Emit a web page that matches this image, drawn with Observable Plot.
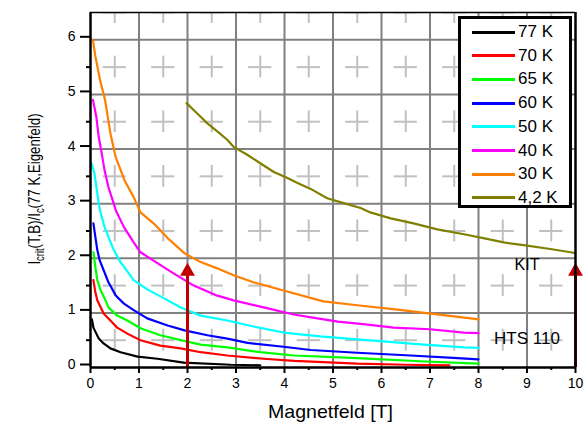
<!DOCTYPE html>
<html>
<head>
<meta charset="utf-8">
<script src="https://cdn.jsdelivr.net/npm/d3@7"></script>
<script src="https://cdn.jsdelivr.net/npm/@observablehq/plot@0.6"></script>
<style>
  html, body { margin: 0; padding: 0; background: #fff; }
  #wrap { position: relative; width: 588px; height: 422px; font-family: "Liberation Sans", Arial, sans-serif; }
  #legend { position: absolute; left: 458px; top: 16px; width: 114px; height: 192px; box-sizing: border-box;
            border: 3px solid #000; background: #fff; }
  .row { position: absolute; left: 0; height: 20px; display: flex; align-items: center; }
  .sw { width: 43px; height: 0; border-top: 3px solid; margin-left: 11px; margin-right: 3px; }
  .lab { font-size: 17px; color: #000; white-space: nowrap; }
</style>
</head>
<body>
<div id="wrap"></div>
<script>
// ---- data ----
const temps  = ["77 K", "70 K", "65 K", "60 K", "50 K", "40 K", "30 K", "4,2 K"];
const colors = ["#000000", "#ff0000", "#00ff00", "#0000ff", "#00ffff", "#ff00ff", "#ff8000", "#808000"];

const b77 = [0.03, 0.06, 0.12, 0.17, 0.27, 0.41, 0.62, 0.97, 1.38, 1.92, 2.89, 3.5];
const i77 = [0.88, 0.73, 0.62, 0.53, 0.44, 0.35, 0.28, 0.20, 0.16, 0.09, 0.05, 0.04];

const b70 = [0.06, 0.10, 0.14, 0.19, 0.27, 0.41, 0.55, 0.76, 1.03, 1.44, 1.86, 2.27, 2.82, 3.57, 4.2, 4.8, 5.5, 6.5, 7.4];
const i70 = [1.60, 1.38, 1.23, 1.14, 0.99, 0.86, 0.73, 0.62, 0.50, 0.40, 0.35, 0.28, 0.22, 0.16, 0.12, 0.10, 0.07, 0.05, 0.04];

const b65 = [0.06, 0.10, 0.14, 0.21, 0.29, 0.37, 0.55, 0.76, 1.03, 1.44, 1.86, 2.27, 2.82, 3.5, 4.19, 5.5, 6.9, 8.0];
const i65 = [2.11, 1.84, 1.60, 1.41, 1.27, 1.10, 0.95, 0.86, 0.72, 0.59, 0.50, 0.42, 0.37, 0.28, 0.22, 0.17, 0.11, 0.07];

const b60 = [0.06, 0.14, 0.19, 0.29, 0.37, 0.52, 0.69, 0.89, 1.17, 1.59, 1.94, 2.41, 2.82, 3.24, 3.98, 4.54, 5.5, 6.6, 7.57, 8.0];
const i60 = [2.64, 2.15, 1.96, 1.74, 1.56, 1.32, 1.17, 1.05, 0.90, 0.77, 0.68, 0.59, 0.53, 0.45, 0.38, 0.32, 0.27, 0.22, 0.17, 0.15];

const b50 = [0.02, 0.08, 0.14, 0.17, 0.21, 0.29, 0.37, 0.48, 0.62, 0.89, 1.17, 1.51, 1.86, 2.27, 2.82, 3.36, 3.98, 4.74, 5.3, 6.04, 6.87, 7.7, 8.0];
const i50 = [3.74, 3.56, 3.19, 3.00, 2.83, 2.57, 2.39, 2.15, 1.93, 1.60, 1.43, 1.27, 1.10, 0.95, 0.86, 0.75, 0.64, 0.57, 0.53, 0.48, 0.42, 0.37, 0.36];

const b40 = [0.05, 0.12, 0.17, 0.23, 0.29, 0.37, 0.48, 0.52, 0.69, 0.89, 1.03, 1.38, 1.72, 2.13, 2.6, 2.95, 3.57, 4.19, 4.68, 5.1, 5.67, 6.25, 7.0, 7.7, 8.0];
const i40 = [4.90, 4.59, 4.22, 3.93, 3.61, 3.30, 3.00, 2.88, 2.57, 2.29, 2.11, 1.91, 1.72, 1.50, 1.32, 1.23, 1.10, 0.97, 0.90, 0.84, 0.79, 0.73, 0.70, 0.64, 0.63];

const b30 = [0.05, 0.10, 0.20, 0.30, 0.41, 0.52, 0.70, 0.89, 1.03, 1.30, 1.59, 1.94, 2.27, 2.6, 2.95, 3.36, 3.98, 4.8, 5.5, 6.33, 7.36, 7.84, 8.0];
const i30 = [6.00, 5.70, 5.25, 4.90, 4.29, 3.85, 3.43, 3.12, 2.84, 2.64, 2.37, 2.09, 1.93, 1.82, 1.69, 1.56, 1.41, 1.21, 1.14, 1.06, 0.95, 0.90, 0.88];

const b42 = [1.98, 2.12, 2.27, 2.41, 2.62, 2.82, 2.95, 3.24, 3.5, 3.78, 4.06, 4.27, 4.54, 4.88, 5.22, 5.57, 5.77, 6.19, 6.66, 7.15, 7.7, 8.1, 8.52, 8.93, 9.48, 9.9, 10.0];
const i42 = [4.84, 4.72, 4.59, 4.47, 4.32, 4.17, 4.04, 3.89, 3.74, 3.58, 3.47, 3.38, 3.27, 3.10, 3.01, 2.92, 2.84, 2.73, 2.64, 2.53, 2.44, 2.37, 2.29, 2.24, 2.17, 2.11, 2.09];

const xTicks = [0, 1, 2, 3, 4, 5, 6, 7, 8, 9, 10];
const yTicks = [0, 1, 2, 3, 4, 5, 6];
const xMinor = [0.5, 1.5, 2.5, 3.5, 4.5, 5.5, 6.5, 7.5, 8.5, 9.5];
const yMinor = [0.5, 1.5, 2.5, 3.5, 4.5, 5.5, 6.5];
const arrowX = [2, 10];
const arrowTop = 1.76;
const notes = ["KIT", "HTS 110"];

const xLabel = "Magnetfeld [T]";

// ---- build table ----
const series = [[b77, i77], [b70, i70], [b65, i65], [b60, i60], [b50, i50], [b40, i40], [b30, i30], [b42, i42]];
const rows = series.flatMap(([bs, is], k) => bs.map((b, j) => ({t: temps[k], B: b, I: is[j]})));
const crosses = d3.cross(xMinor, yMinor);

const font = "Liberation Sans, Arial, sans-serif";
const xDomain = [0, 10], yDomain = [0, 6.5];
const intFmt = d3.format("d");

const svg = Plot.plot({
  width: 588, height: 422,
  marginLeft: 90, marginRight: 13, marginTop: 12, marginBottom: 55,
  style: {fontFamily: font, background: "#fff", color: "#000"},
  x: {domain: xDomain, axis: null},
  y: {domain: yDomain, axis: null},
  color: {domain: temps, range: colors},
  marks: [
    Plot.gridX(xTicks.slice(1, -1), {stroke: "#808080", strokeOpacity: 1, strokeWidth: 2}),
    Plot.gridY(yTicks.slice(1), {stroke: "#808080", strokeOpacity: 1, strokeWidth: 2}),
    Plot.ruleX(crosses, {x: d => d[0], y1: d => d[1] - 0.2, y2: d => d[1] + 0.2, stroke: "#c0c0c0", strokeWidth: 2, clip: true}),
    Plot.ruleY(crosses, {y: d => d[1], x1: d => d[0] - 0.24, x2: d => d[0] + 0.24, stroke: "#c0c0c0", strokeWidth: 2, clip: true}),
    Plot.line(rows, {x: "B", y: "I", z: "t", stroke: "t", strokeWidth: 2.2, clip: true}),
    Plot.ruleX(arrowX, {x: d => d, y1: yDomain[0], y2: arrowTop - 0.05, stroke: "#c00000", strokeWidth: 3}),
    Plot.dot(arrowX, {x: d => d, y: arrowTop, symbol: "triangle", r: 5.5, fill: "#c00000", stroke: null}),
    Plot.ruleX([xDomain[0]], {stroke: "#000", strokeWidth: 2.5}),
    Plot.ruleX([xDomain[1]], {stroke: "#000", strokeWidth: 2.5}),
    Plot.ruleY([yDomain[0]], {stroke: "#000", strokeWidth: 2.5}),
    Plot.ruleY([yDomain[1]], {stroke: "#000", strokeWidth: 1.5}),
    Plot.axisY(yTicks, {tickSize: 10, tickPadding: 5, fontSize: 14, label: null, strokeWidth: 2, dy: -3, tickFormat: intFmt}),
    Plot.axisY(yMinor.slice(0, -1), {tickSize: 4, tickFormat: () => "", label: null, strokeWidth: 2}),
    Plot.axisX(xTicks, {tickSize: 6, tickPadding: 5, fontSize: 14, label: null, strokeWidth: 2, tickFormat: intFmt}),
    Plot.axisX(xMinor, {tickSize: 3, tickFormat: () => "", label: null, strokeWidth: 2}),
    Plot.text([notes[0]], {x: 9.0, y: 1.87, text: d => d, fontSize: 16, fill: "#000"}),
    Plot.text([notes[1]], {x: 9.0, y: 0.53, text: d => d, fontSize: 17, fill: "#000"})
  ]
});

const sel = d3.select(svg);
// x title
sel.append("text")
  .attr("x", (90 + 575) / 2 - 2).attr("y", 418)
  .attr("text-anchor", "middle")
  .attr("font-size", 19).attr("font-family", font).attr("fill", "#000")
  .attr("textLength", 125).attr("lengthAdjust", "spacingAndGlyphs")
  .text(xLabel);
// y title with subscripts (compressed along its length)
const yt = sel.append("text")
  .attr("transform", "translate(40,189) rotate(-90) scale(0.78,1)")
  .attr("text-anchor", "middle")
  .attr("font-size", 17).attr("font-family", font).attr("fill", "#000");
yt.append("tspan").text("I");
yt.append("tspan").attr("font-size", 12).attr("dy", 4).text("crit");
yt.append("tspan").attr("dy", -4).text("(T,B)/I");
yt.append("tspan").attr("font-size", 12).attr("dy", 4).text("c");
yt.append("tspan").attr("dy", -4).text("(77 K,Eigenfeld)");

const wrap = document.getElementById("wrap");
wrap.appendChild(svg);

// legend
const leg = document.createElement("div");
leg.id = "legend";
temps.forEach((t, i) => {
  const r = document.createElement("div");
  r.className = "row";
  r.style.top = (3 + 23.7 * i) + "px";
  r.innerHTML = `<span class="sw" style="border-color:${colors[i]}"></span><span class="lab">${t}</span>`;
  leg.appendChild(r);
});
wrap.appendChild(leg);
</script>
</body>
</html>
